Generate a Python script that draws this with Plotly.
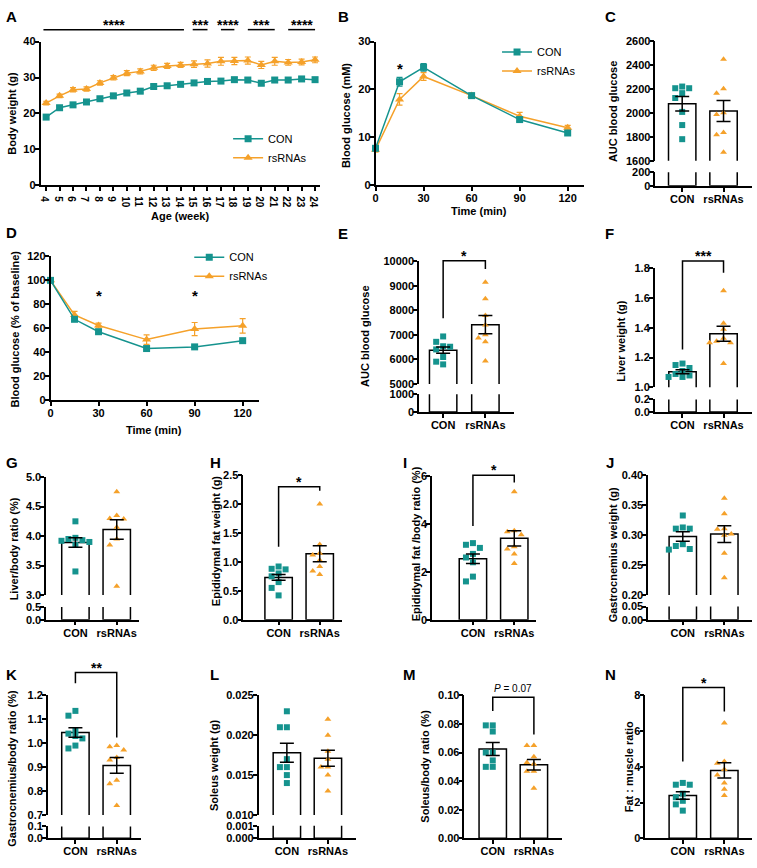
import plotly.graph_objects as go
import numpy as np

W, H = 757, 868
TEAL = "#15938e"
ORANGE = "#f5a12a"
FONT = "Liberation Sans, Arial, Helvetica, sans-serif"

# ------------------------------------------------------------------ data
groups = ["CON", "rsRNAs"]

# A: body weight
weeks = list(range(4, 25))
bw_con = [19.0, 21.6, 22.4, 23.2, 24.1, 24.9, 25.7, 26.2, 27.5, 27.7, 28.1, 28.5,
          28.9, 29.0, 29.4, 29.3, 28.4, 29.3, 29.3, 29.6, 29.4]
bw_con_sem = [0.4, 0.5, 0.5, 0.5, 0.5, 0.5, 0.5, 0.5, 0.5, 0.5, 0.5, 0.5, 0.5,
              0.6, 0.6, 0.6, 0.6, 0.6, 0.6, 0.6, 0.6]
bw_rs = [22.9, 24.9, 26.6, 26.8, 28.5, 29.9, 31.2, 31.7, 32.7, 33.2, 33.5, 33.7,
         33.9, 34.5, 34.6, 34.7, 33.5, 34.5, 34.2, 34.3, 34.9]
bw_rs_sem = [0.5, 0.5, 0.6, 0.6, 0.6, 0.6, 0.7, 0.7, 0.7, 0.7, 0.7, 0.9, 1.0,
             1.1, 1.0, 1.0, 1.0, 1.1, 0.8, 0.8, 0.8]
sig_a_spans = [[3.8, 14.25], [14.9, 16.0], [17.0, 18.0], [19.0, 21.0], [22.0, 24.0]]
sig_a_labels = ["****", "***", "****", "***", "****"]
sig_a_level = 43.3

# B: OGTT
ogtt_time = [0, 15, 30, 60, 90, 120]
ogtt_con = [7.7, 21.6, 24.6, 18.7, 13.7, 10.9]
ogtt_con_sem = [0.5, 0.9, 0.8, 0.4, 0.4, 0.4]
ogtt_rs = [7.4, 17.9, 22.7, 18.7, 14.4, 12.0]
ogtt_rs_sem = [0.5, 1.2, 0.8, 0.5, 0.8, 0.5]

# D: ITT
itt_time = [0, 15, 30, 60, 90, 120]
itt_con = [100, 67.4, 57.0, 42.9, 44.3, 49.5]
itt_con_sem = [0, 1.5, 1.2, 1.0, 1.2, 1.2]
itt_rs = [100, 71.0, 62.2, 50.4, 59.2, 61.9]
itt_rs_sem = [0, 3.0, 2.0, 4.0, 5.5, 6.0]

# bar panels: individual values, mean, sem
C_con = [2221, 2207, 2207, 2166, 2125, 2009, 1899, 1781]
C_rs = [2449, 2202, 2166, 2001, 1987, 1836, 1817, 1671]
C_mean = [2077, 2016]
C_sem = [60, 88]

E_con = [6940, 6720, 6540, 6520, 6410, 6100, 5910, 5800]
E_rs = [9150, 8480, 7790, 7410, 7010, 6880, 6720, 5940]
E_mean = [6380, 7420]
E_sem = [130, 375]

F_con = [1.16, 1.15, 1.13, 1.11, 1.09, 1.08, 1.07, 1.07]
F_rs = [1.65, 1.43, 1.39, 1.33, 1.31, 1.30, 1.30, 1.16]
F_mean = [1.105, 1.36]
F_sem = [0.013, 0.05]

G_con = [4.25, 3.97, 3.95, 3.93, 3.92, 3.90, 3.85, 3.40]
G_rs = [4.75, 4.35, 4.30, 4.29, 4.15, 3.95, 3.85, 3.15]
G_mean = [3.89, 4.11]
G_sem = [0.08, 0.165]

H_con = [0.92, 0.88, 0.87, 0.80, 0.75, 0.65, 0.55, 0.42]
H_rs = [2.0, 1.30, 1.15, 1.12, 1.03, 0.92, 0.84, 0.78]
H_mean = [0.73, 1.14]
H_sem = [0.05, 0.14]

I_con = [3.2, 3.13, 3.0, 2.75, 2.6, 2.4, 1.8, 1.6]
I_rs = [5.35, 3.72, 3.68, 3.55, 3.05, 2.95, 2.75, 2.35]
I_mean = [2.55, 3.40]
I_sem = [0.2, 0.32]

J_con = [0.333, 0.313, 0.311, 0.311, 0.285, 0.282, 0.277, 0.276]
J_rs = [0.362, 0.336, 0.311, 0.310, 0.302, 0.300, 0.270, 0.229]
J_mean = [0.298, 0.302]
J_sem = [0.008, 0.014]

K_con = [1.135, 1.115, 1.055, 1.04, 1.03, 1.02, 0.99, 0.978]
K_rs = [0.99, 0.985, 0.972, 0.94, 0.93, 0.845, 0.83, 0.74]
K_mean = [1.045, 0.907]
K_sem = [0.02, 0.033]

L_con = [0.023, 0.021, 0.021, 0.017, 0.016, 0.016, 0.015, 0.014]
L_rs = [0.022, 0.020, 0.018, 0.017, 0.016, 0.016, 0.015, 0.013]
L_mean = [0.0178, 0.0171]
L_sem = [0.0012, 0.001]

M_con = [0.079, 0.079, 0.0747, 0.060, 0.060, 0.0545, 0.050, 0.050]
M_rs = [0.065, 0.065, 0.057, 0.053, 0.052, 0.047, 0.047, 0.035]
M_mean = [0.0625, 0.0515]
M_sem = [0.0045, 0.0037]

N_con = [3.1, 3.0, 3.0, 2.5, 2.3, 2.1, 1.9, 1.55]
N_rs = [6.45, 4.3, 4.2, 3.85, 3.55, 3.1, 2.75, 2.4]
N_mean = [2.4, 3.8]
N_sem = [0.21, 0.43]

# significance brackets: (top, CON leg end, rsRNAs leg end, label)
E_br = (10030, 7680, 9690, "*")
F_br = (1.85, 1.254, 1.77, "***")
H_br = (2.30, 1.26, 2.23, "*")
I_br = (6.04, 3.91, 5.73, "*")
K_br = (1.295, 1.25, 1.024, "**")
M_br = (0.0986, 0.089, 0.0726, "<i>P</i> = 0.07")
N_br = (8.44, 4.3, 7.1, "*")

# ------------------------------------------------------------------ helpers
layout = dict(width=W, height=H, margin=dict(l=0, r=0, t=0, b=0),
              paper_bgcolor="white", plot_bgcolor="rgba(0,0,0,0)",
              barmode="overlay", showlegend=True)
annotations, shapes, traces = [], [], []
n_axes = [0]

# negative tick-label standoff (pulls labels toward the axis) if supported
try:
    go.layout.YAxis(ticklabelstandoff=-3)
    STANDOFF_OK = True
except Exception:
    STANDOFF_OK = False


def px_x(p):
    return p / W


def px_y(p):
    return 1 - p / H


def tickfont(size=11):
    return dict(family=FONT, size=size, color="black", weight="bold")


def base_axis(so):
    d = dict(showline=True, linecolor="black", linewidth=1.5, ticks="outside",
             ticklen=4, tickwidth=1.5, tickcolor="black", showgrid=False,
             zeroline=False, fixedrange=True, tickfont=tickfont())
    if STANDOFF_OK:
        d["ticklabelstandoff"] = so
    return d


def add_axes(xpx, ypx, xr, yr, xkw=None, ykw=None):
    n_axes[0] += 1
    s = "" if n_axes[0] == 1 else str(n_axes[0])
    xa = base_axis(-2)
    xa.update(domain=[px_x(xpx[0]), px_x(xpx[1])], range=xr, anchor="y" + s)
    xa.update(xkw or {})
    ya = base_axis(-3)
    ya.update(domain=[px_y(ypx[1]), px_y(ypx[0])], range=yr, anchor="x" + s)
    ya.update(ykw or {})
    layout["xaxis" + s] = xa
    layout["yaxis" + s] = ya
    return "x" + s, "y" + s


def val_to_py(v, ypx, yr):
    return ypx[1] - (v - yr[0]) / (yr[1] - yr[0]) * (ypx[1] - ypx[0])


def val_to_px(v, xpx, xr):
    return xpx[0] + (v - xr[0]) / (xr[1] - xr[0]) * (xpx[1] - xpx[0])


def path(points, width=1.5):
    d = "M " + " L ".join(f"{px_x(x):.5f},{px_y(y):.5f}" for x, y in points)
    shapes.append(dict(type="path", xref="paper", yref="paper", path=d,
                       line=dict(color="black", width=width)))


def text(x, y, s, size=11, bold=True, angle=0, xanchor="center", yanchor="middle"):
    annotations.append(dict(x=px_x(x), y=px_y(y), xref="paper", yref="paper",
                            text=f"<b>{s}</b>" if bold else s, showarrow=False,
                            textangle=angle, xanchor=xanchor, yanchor=yanchor,
                            font=dict(family=FONT, size=size, color="black")))


def swarm(values, px_per_val, px_per_cat, step=7.0, mind=6.0):
    vals = np.asarray(values, float)
    order = np.argsort(-vals)
    placed = []
    offs = np.zeros(len(vals))
    for i in order:
        yp = vals[i] * px_per_val
        for c in [0, -1, 1, -2, 2, -3, 3]:
            xp = c * step
            if all((xp - a) ** 2 + (yp - b) ** 2 >= mind ** 2 for a, b in placed):
                break
        placed.append((xp, yp))
        offs[i] = xp / px_per_cat
    return offs


def line_panel(xpx, ypx, xr, yr, xtv, ytv, x, con, con_sem, rs, rs_sem, leg,
               xtick_size=11):
    xa, ya = add_axes(xpx, ypx, xr, yr,
                      dict(tickvals=xtv, tickfont=tickfont(xtick_size)),
                      dict(tickvals=ytv))
    traces.append(go.Scatter(x=x, y=rs, mode="lines+markers", name="rsRNAs",
                             legend=leg, legendrank=2, cliponaxis=False,
                             line=dict(color=ORANGE, width=1.5),
                             marker=dict(symbol="triangle-up", size=8, color=ORANGE),
                             error_y=dict(type="data", array=rs_sem, color=ORANGE,
                                          thickness=1.2, width=3),
                             xaxis=xa, yaxis=ya))
    traces.append(go.Scatter(x=x, y=con, mode="lines+markers", name="CON",
                             legend=leg, legendrank=1, cliponaxis=False,
                             line=dict(color=TEAL, width=1.5),
                             marker=dict(symbol="square", size=7, color=TEAL),
                             error_y=dict(type="data", array=con_sem, color=TEAL,
                                          thickness=1.2, width=3),
                             xaxis=xa, yaxis=ya))
    return xa, ya


def bar_panel(geom, segs, con, rs, mean, sem, bracket=None):
    yx, c1, c2, xend = geom
    unit = c2 - c1
    xr = [(yx - c1) / unit, (xend - c1) / unit]
    bw = 27.5 / unit
    xpx = [yx, xend]
    axes = []
    for k, (ytop, ybot, r0, r1, tv, fmt) in enumerate(segs):
        bottom = k == len(segs) - 1
        xkw = (dict(tickvals=[0, 1], ticktext=groups) if bottom
               else dict(visible=False))
        ykw = dict(tickvals=tv, tickformat=fmt)
        xa, ya = add_axes(xpx, [ytop, ybot], xr, [r0, r1], xkw, ykw)
        traces.append(go.Bar(x=[0, 1], y=mean, width=bw, showlegend=False,
                             marker=dict(color="white",
                                         line=dict(color="black", width=1.5)),
                             xaxis=xa, yaxis=ya))
        axes.append((xa, ya, (ytop, ybot), (r0, r1)))
    xa, ya, ypx, yr = axes[0]
    ppv = (ypx[1] - ypx[0]) / (yr[1] - yr[0])
    for gi, (vals, sym, col) in enumerate([(con, "square", TEAL),
                                            (rs, "triangle-up", ORANGE)]):
        offs = swarm(vals, ppv, unit)
        traces.append(go.Scatter(x=gi + offs, y=vals, mode="markers",
                                 showlegend=False, cliponaxis=False,
                                 marker=dict(symbol=sym, size=6, color=col),
                                 xaxis=xa, yaxis=ya))
    traces.append(go.Scatter(x=[0, 1], y=mean, mode="markers", showlegend=False,
                             marker=dict(size=1, color="rgba(0,0,0,0)"),
                             error_y=dict(type="data", array=sem, color="black",
                                          thickness=1.5, width=7),
                             xaxis=xa, yaxis=ya))
    if bracket:
        top, l1, l2, lab = bracket
        x1 = val_to_px(0, xpx, xr)
        x2 = val_to_px(1, xpx, xr)
        yt = val_to_py(top, ypx, yr)
        path([(x1, val_to_py(l1, ypx, yr)), (x1, yt), (x2, yt),
              (x2, val_to_py(l2, ypx, yr))])
        if lab.startswith("<i>"):
            text((x1 + x2) / 2, yt - 9, lab, size=10, bold=False)
        else:
            text((x1 + x2) / 2, yt - 5, lab, size=14, bold=True)


# ------------------------------------------------------------------ panel A
A_xpx, A_ypx = [37.7, 318.3], [36, 182]
A_xr, A_yr = [3.585, 24.37], [0, 40]
xaA, yaA = line_panel(A_xpx, A_ypx, A_xr, A_yr, weeks, [0, 10, 20, 30, 40],
                      weeks, bw_con, bw_con_sem, bw_rs, bw_rs_sem, "legend",
                      xtick_size=10)
for (s0, s1), lab in zip(sig_a_spans, sig_a_labels):
    yy = val_to_py(sig_a_level, A_ypx, A_yr)
    path([(val_to_px(s0, A_xpx, A_xr), yy), (val_to_px(s1, A_xpx, A_xr), yy)])
    text(val_to_px((s0 + s1) / 2, A_xpx, A_xr), yy - 5, lab, size=14, bold=True)

# ------------------------------------------------------------------ panel B
xaB, yaB = line_panel([374, 583], [36, 181.7], [0, 130], [0, 30],
                      [0, 30, 60, 90, 120], [0, 10, 20, 30],
                      ogtt_time, ogtt_con, ogtt_con_sem, ogtt_rs, ogtt_rs_sem,
                      "legend2")
annotations.append(dict(x=15, y=24.4, xref=xaB, yref=yaB, text="<b>*</b>",
                        showarrow=False,
                        font=dict(family=FONT, size=15, color="black")))

# ------------------------------------------------------------------ panel D
xaD, yaD = line_panel([47.7, 256.7], [254, 399.3], [0, 130], [0, 120],
                      [0, 30, 60, 90, 120], [0, 20, 40, 60, 80, 100, 120],
                      itt_time, itt_con, itt_con_sem, itt_rs, itt_rs_sem, "legend3")
for xs in [30, 90]:
    annotations.append(dict(x=xs, y=87, xref=xaD, yref=yaD, text="<b>*</b>",
                            showarrow=False,
                            font=dict(family=FONT, size=15, color="black")))

# ------------------------------------------------------------------ bar panels
def ticks(a, b, s):
    return list(np.round(np.arange(a, b + s / 2, s), 6))


bar_panel((655, 681.9, 723.4, 751.7),
          [(35.7, 157, 1600, 2600, ticks(1600, 2600, 200), "d"),
           (168.7, 182.3, 0, 200, [0, 200], "d")],
          C_con, C_rs, C_mean, C_sem)
bar_panel((417.7, 441.9, 484.3, 512.7),
          [(259, 383.3, 5000, 10000, ticks(5000, 10000, 1000), "d"),
           (393.7, 411.7, 0, 1000, [0, 1000], "d")],
          E_con, E_rs, E_mean, E_sem, E_br)
bar_panel((654.3, 682.2, 723.4, 751.7),
          [(266, 386.7, 1.0, 1.8, ticks(1.0, 1.8, 0.2), ".1f"),
           (399, 411.7, 0, 0.2, [0, 0.2], ".1f")],
          F_con, F_rs, F_mean, F_sem, F_br)
bar_panel((43.3, 72.7, 114.2, 136.7),
          [(477.7, 597.3, 3.0, 5.0, ticks(3.0, 5.0, 0.5), ".1f"),
           (609.3, 622.3, 0, 0.5, [0, 0.5], ".1f")],
          G_con, G_rs, G_mean, G_sem)
bar_panel((241.3, 276.7, 318, 340),
          [(475.7, 622.3, 0, 2.5, ticks(0, 2.5, 0.5), ".1f")],
          H_con, H_rs, H_mean, H_sem, H_br)
bar_panel((430.7, 471.8, 513.3, 535),
          [(476.7, 622.3, 0, 6, [0, 2, 4, 6], "d")],
          I_con, I_rs, I_mean, I_sem, I_br)
bar_panel((647.7, 682.5, 724.2, 751.7),
          [(476, 597.3, 0.2, 0.4, ticks(0.2, 0.4, 0.05), ".2f"),
           (609, 622.3, 0, 0.05, [0, 0.05], ".2f")],
          J_con, J_rs, J_mean, J_sem)
bar_panel((45, 72.7, 114.2, 138.3),
          [(699, 820.3, 0.7, 1.2, ticks(0.7, 1.2, 0.1), ".1f"),
           (832, 844, 0, 0.1, [0, 0.1], ".1f")],
          K_con, K_rs, K_mean, K_sem, K_br)
bar_panel((256.7, 285, 326.2, 354),
          [(699, 820.3, 0.010, 0.025, ticks(0.010, 0.025, 0.005), ".3f"),
           (831.3, 844, 0, 0.001, [0, 0.001], ".3f")],
          L_con, L_rs, L_mean, L_sem)
bar_panel((463.3, 491.7, 533, 561.7),
          [(699, 844, 0, 0.1, ticks(0, 0.1, 0.02), ".2f")],
          M_con, M_rs, M_mean, M_sem, M_br)
bar_panel((645, 682.5, 724.2, 751.7),
          [(699, 844, 0, 8, [0, 2, 4, 6, 8], "d")],
          N_con, N_rs, N_mean, N_sem, N_br)

# ------------------------------------------------------------------ texts
for lab, x, y in [("A", 9, 11), ("B", 342, 11), ("C", 610, 11), ("D", 9, 230),
                  ("E", 341, 231), ("F", 609, 231), ("G", 9, 463), ("H", 213, 463),
                  ("I", 404, 463), ("J", 609, 463), ("K", 9, 678), ("L", 212.5, 678),
                  ("M", 408, 678), ("N", 610, 678)]:
    text(x, y, lab, size=15)

for lab, x, y in [("Body weight (g)", 9.3, 109), ("Blood glucose (mM)", 345, 111),
                  ("AUC blood glucose", 612, 107),
                  ("Blood glucose (% of baseline)", 13, 327),
                  ("AUC blood glucose", 364, 335), ("Liver weight (g)", 621, 340),
                  ("Liver/body ratio (%)", 11, 550),
                  ("Epididymal fat weight (g)", 213.5, 542),
                  ("Epididymal fat /body ratio (%)", 415.5, 545),
                  ("Gastrocnemius weight (g)", 612.5, 557),
                  ("Gastrocnemius/body ratio (%)", 9.5, 773),
                  ("Soleus weight (g)", 212.5, 770),
                  ("Soleus/body ratio (%)", 424, 771),
                  ("Fat : muscle ratio", 628.5, 772)]:
    text(x, y, lab, size=11, angle=-90)

for lab, x, y in [("Age (week)", 178, 213), ("Time (min)", 478.3, 208),
                  ("Time (min)", 151.7, 430)]:
    text(x, y, lab, size=11)

leg_common = dict(xanchor="left", yanchor="top", bgcolor="rgba(0,0,0,0)",
                  font=dict(family=FONT, size=11, color="black"), itemwidth=30,
                  tracegroupgap=0)
layout["legend"] = dict(leg_common, x=px_x(226), y=px_y(120))
layout["legend2"] = dict(leg_common, x=px_x(496), y=px_y(32))
layout["legend3"] = dict(leg_common, x=px_x(187), y=px_y(240))
layout["annotations"] = annotations
layout["shapes"] = shapes

fig = go.Figure(data=traces, layout=layout)
fig.write_html("out.html")
